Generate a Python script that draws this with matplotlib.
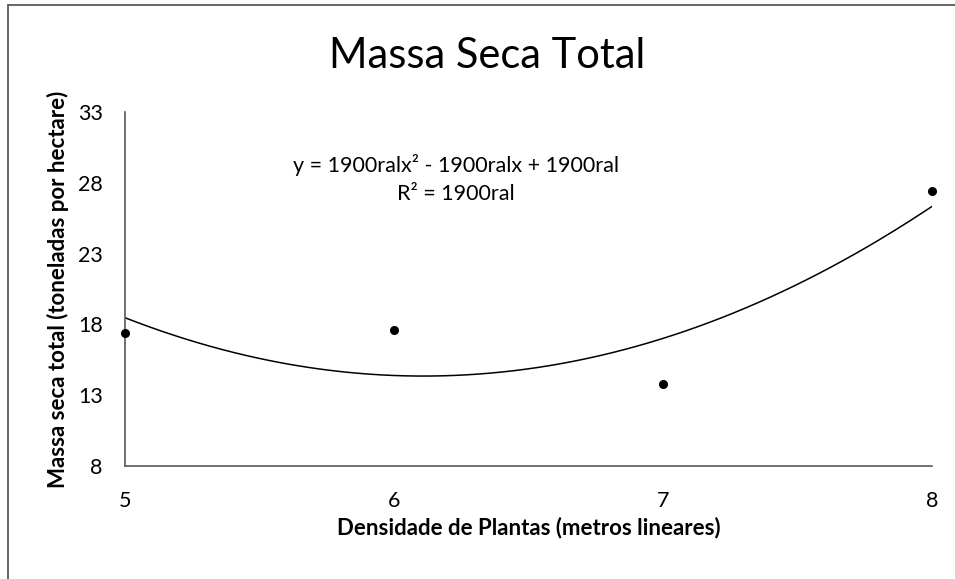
import numpy as np
import matplotlib.pyplot as plt
from matplotlib.patches import Rectangle

plt.rcParams['font.family'] = ['Lato', 'DejaVu Sans']

# densidade (m lineares) x massa seca total (t/ha)
densidade = [5, 6, 7, 8]
massa_seca = [17.4, 17.6, 13.8, 27.4]

y_ticks = [8, 13, 18, 23, 28, 33]
x_ticks = [5, 6, 7, 8]

fig = plt.figure(figsize=(9.55, 5.79), dpi=100)
ax = fig.add_axes([0.1309, 0.1952, 0.845, 0.6114])

# linha de tendencia polinomial (grau 2)
coef = np.polyfit(densidade, massa_seca, 2)
xs = np.linspace(5, 8, 200)
ax.plot(xs, np.polyval(coef, xs), color='black', lw=1.1)

ax.plot(densidade, massa_seca, 'o', color='black', markersize=5.5, clip_on=False, zorder=3)

ax.set_xlim(5, 8)
ax.set_ylim(8, 33)
ax.set_xticks(x_ticks)
ax.set_yticks(y_ticks)
ax.tick_params(length=0, labelsize=15.5)
ax.tick_params(axis='y', pad=16)
ax.tick_params(axis='x', pad=18)

for s in ['top', 'right']:
    ax.spines[s].set_visible(False)
for s in ['left', 'bottom']:
    ax.spines[s].set_color('#595959')
    ax.spines[s].set_linewidth(1.2)

ax.set_xlabel('Densidade de Plantas (metros lineares)', fontsize=16, fontweight='bold', labelpad=4)
ax.set_ylabel('Massa seca total (toneladas por hectare)', fontsize=16, fontweight='bold')
ax.yaxis.set_label_coords(-0.069, 0.5)

fig.text(0.51, 0.903, 'Massa Seca Total', ha='center', va='center', fontsize=30)

ax.text(0.41, 0.812, 'y = 1900ralx² - 1900ralx + 1900ral\nR² = 1900ral',
        transform=ax.transAxes, ha='center', va='center', fontsize=15.5, linespacing=1.5)

# borda da area do grafico
fig.patches.append(Rectangle((8 / 955, -0.1), 1.2, 1.1 - 5 / 579, transform=fig.transFigure,
                             fill=False, edgecolor='#595959', lw=1.3))

fig.savefig('out.png', dpi=100)
